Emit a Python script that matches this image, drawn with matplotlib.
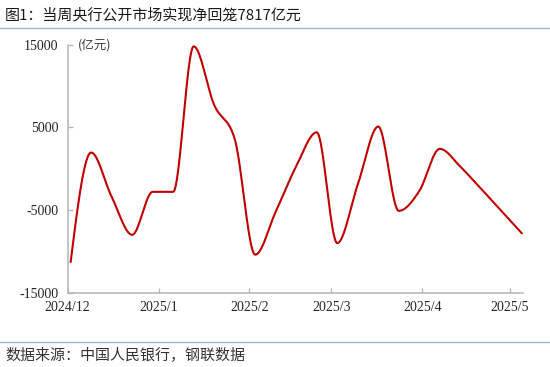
import numpy as np
import pandas as pd
import matplotlib
matplotlib.use('Agg')
import matplotlib.pyplot as plt
import matplotlib.dates as mdates

plt.rcParams['axes.unicode_minus'] = False

# weekly net injection (+) / withdrawal (-), 100 mn yuan
week_dates = pd.date_range('2024-12-02', periods=23, freq='7D')
net_values = [-11300, 1950, -3400, -8000, -2800, -2800, 14800, 7700, 3600,
              -10400, -5200, 300, 4400, -9000, -1900, 5100, -5100, -2700,
              2400, 250, -2400, -5100, -7817]
month_ticks = ['2024-12-01', '2025-01-01', '2025-02-01', '2025-03-01',
               '2025-04-01', '2025-05-01']
month_labels = ['2024/12', '2025/1', '2025/2', '2025/3', '2025/4', '2025/5']
y_ticks = [-15000, -5000, 5000, 15000]

title = '图1：当周央行公开市场实现净回笼7817亿元'
source = '数据来源：中国人民银行，钢联数据'
cjk = ['Noto Sans CJK SC', 'DejaVu Sans']


def monotone_line(x, y, n=40):
    """Monotone cubic smoothing (no overshoot, flat at extremes)."""
    x = np.asarray(x, float)
    y = np.asarray(y, float)
    h = np.diff(x)
    s = np.diff(y) / h
    t = np.zeros_like(y)
    for i in range(1, len(y) - 1):
        p = (s[i - 1] * h[i] + s[i] * h[i - 1]) / (h[i - 1] + h[i])
        t[i] = (np.sign(s[i - 1]) + np.sign(s[i])) * \
            min(abs(s[i - 1]), abs(s[i]), 0.5 * abs(p))
    t[0] = (3 * s[0] - t[1]) / 2
    t[-1] = (3 * s[-1] - t[-2]) / 2
    xs, ys = [], []
    u = np.linspace(0, 1, n)
    for i in range(len(y) - 1):
        h00 = 2 * u**3 - 3 * u**2 + 1
        h10 = u**3 - 2 * u**2 + u
        h01 = -2 * u**3 + 3 * u**2
        h11 = u**3 - u**2
        xs.append(x[i] + u * h[i])
        ys.append(h00 * y[i] + h10 * h[i] * t[i] + h01 * y[i + 1]
                  + h11 * h[i] * t[i + 1])
    return np.concatenate(xs), np.concatenate(ys)


fig = plt.figure(figsize=(5.5, 3.67), dpi=100)
ax = fig.add_axes([0.1231, 0.2025, 0.9504 - 0.1231, 0.8782 - 0.2025])

xnum = mdates.date2num(week_dates)
sx, sy = monotone_line(xnum, net_values)
ax.plot(sx, sy, color='#C00000', lw=1.5, solid_capstyle='round')

x0 = mdates.date2num(pd.Timestamp('2024-12-01'))
ax.set_xlim(x0, x0 + 155.3)
ax.set_ylim(-15000, 15000)
ax.set_xticks(mdates.date2num(pd.to_datetime(month_ticks)))
ax.set_xticklabels(month_labels)
ax.set_yticks(y_ticks)
ax.set_yticklabels([str(v) for v in y_ticks])

for side in ['top', 'right']:
    ax.spines[side].set_visible(False)
for side in ['left', 'bottom']:
    ax.spines[side].set_color('#B4B4B4')
    ax.spines[side].set_linewidth(1.1)
ax.tick_params(axis='both', direction='in', length=3.5, width=0.9,
               color='#B4B4B4', labelsize=10, labelcolor='#262626')
ax.tick_params(axis='y', pad=6.5)
ax.tick_params(axis='x', pad=6)
for lab in ax.get_xticklabels() + ax.get_yticklabels():
    lab.set_fontfamily('Liberation Serif')

ax.text(0.023, 1.0, '(亿元)', transform=ax.transAxes, ha='left', va='center',
        fontsize=9, color='#404040', family=cjk)

# title, source and the two thin rules
fig.text(0.009, 0.959, title, ha='left', va='center', fontsize=10.8,
         color='#1a1a1a', family=cjk)
fig.text(0.009, 0.034, source, ha='left', va='center', fontsize=10.8,
         color='#333333', family=cjk)
fig.add_artist(plt.Line2D([0, 1], [0.923, 0.923], transform=fig.transFigure,
                          color='#9DB3D6', lw=1.0))
fig.add_artist(plt.Line2D([0, 1], [0.0687, 0.0687], transform=fig.transFigure,
                          color='#9DB3D6', lw=1.0))

fig.savefig('out.png', dpi=100)
